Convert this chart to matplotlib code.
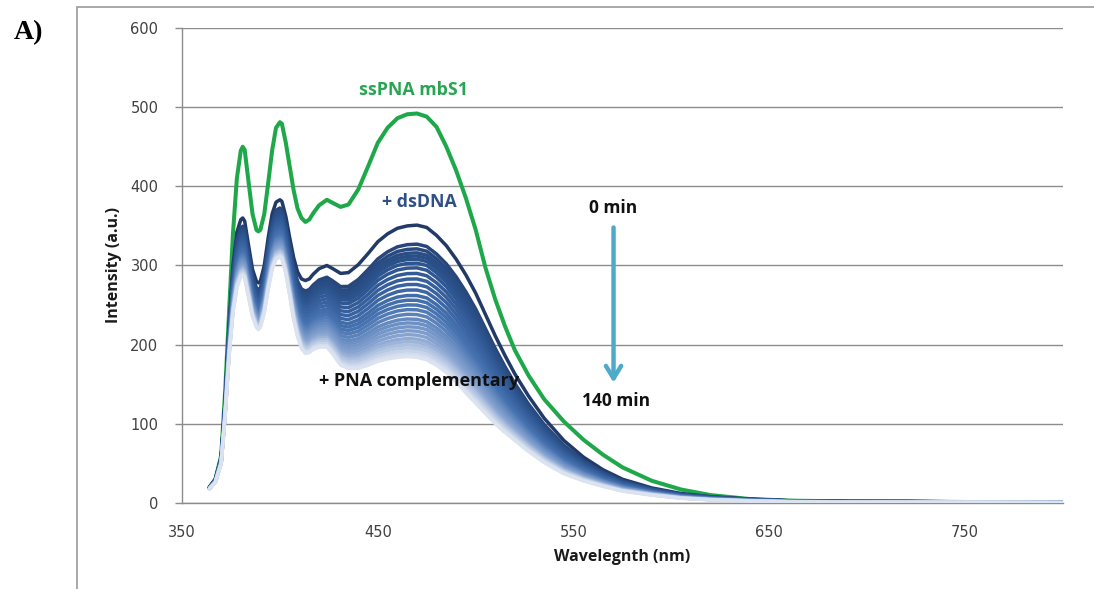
import numpy as np
import matplotlib
matplotlib.use("Agg")
import matplotlib.pyplot as plt
from matplotlib.colors import LinearSegmentedColormap
from matplotlib.patches import Rectangle

# Wavelength grid (nm)
wavelength = [364, 367, 370, 372, 374, 376, 378, 380, 381, 382, 384, 386, 388, 389, 390,
              392, 394, 396, 398, 400, 401, 403, 405, 407, 409, 411, 413, 415, 417, 420,
              424, 427, 431, 435, 440, 445, 450, 455, 460, 465, 470, 475, 480, 485, 490,
              495, 500, 505, 510, 515, 520, 527, 535, 545, 555, 565, 575, 590, 605, 620,
              640, 660, 690, 720, 760, 800]

# ssPNA mbS1 alone
ss_pna = [20, 30, 60, 140, 240, 340, 410, 445, 450, 446, 405, 365, 345, 343, 345,
          365, 404, 445, 474, 481, 479, 455, 425, 395, 372, 360, 355, 358, 366, 376,
          383, 379, 374, 377, 396, 425, 455, 474, 486, 491, 492, 488, 475, 450, 420,
          385, 345, 297, 257, 223, 193, 161, 131, 103, 80, 61, 45, 28, 17, 10,
          5, 3, 2, 1.5, 1, 0.5]

# + dsDNA, first scan (0 min)
ds_first = [20, 30, 58, 130, 225, 300, 342, 358, 360, 356, 325, 295, 280, 278, 280,
            300, 335, 365, 380, 383, 381, 362, 335, 310, 292, 283, 281, 283, 289, 296,
            300, 296, 290, 291, 301, 315, 330, 340, 347, 350, 351, 348, 338, 325, 308,
            288, 265, 238, 211, 186, 163, 135, 107, 79, 58, 42, 30, 19, 12, 8,
            5, 3, 2, 2, 1.5, 1]

# + PNA complementary, last scan (140 min)
ds_last = [18, 26, 50, 110, 185, 240, 272, 286, 288, 284, 260, 235, 222, 219, 222,
           240, 270, 295, 308, 311, 309, 290, 262, 232, 210, 195, 189, 190, 194, 197,
           197, 188, 174, 170, 170, 174, 179, 182, 184, 185, 184, 181, 174, 165, 153,
           139, 126, 113, 100, 89, 79, 65, 51, 37, 28, 21, 15, 10, 6, 4,
           2.5, 1.5, 1, 1, 0.8, 0.5]

# Scan times (min) and emission maximum (~470 nm) of each scan
scan_time = list(range(0, 145, 5))
max_intensity = [351, 327, 321, 316, 312, 308, 303, 297, 290, 283, 276, 269, 262, 256, 250,
                 244, 238, 232, 227, 222, 217, 212, 207, 203, 199, 195, 191, 187, 184]

x_ticks = [350, 450, 550, 650, 750]
y_ticks = [0, 100, 200, 300, 400, 500, 600]

wl = np.array(wavelength, dtype=float)
first = np.array(ds_first, dtype=float)
last = np.array(ds_last, dtype=float)

fig = plt.figure(figsize=(10.94, 5.89), dpi=100)
ax = fig.add_axes([0.1664, 0.146, 0.8053, 0.8065])

# chart frame
fig.patches.append(Rectangle((0.0704, -0.05), 1.0, 1.038, transform=fig.transFigure,
                             fill=False, edgecolor="#9a9a9a", linewidth=1.2))

ax.plot(wl, ss_pna, color="#1fa84a", linewidth=2.9, zorder=2,
        solid_capstyle="round", solid_joinstyle="round")

cmap = LinearSegmentedColormap.from_list(
    "scan", [(0.0, "#213a68"), (0.3, "#2d5590"), (0.6, "#4672b0"),
             (0.85, "#8aa6d2"), (1.0, "#dbe3f0")])
m0, m1 = max_intensity[0], max_intensity[-1]
for t, m in zip(scan_time, max_intensity):
    frac = (m0 - m) / (m0 - m1)
    spec = first + frac * (last - first)
    ax.plot(wl, spec, color=cmap(frac), linewidth=2.5, zorder=3,
            solid_capstyle="round", solid_joinstyle="round")

ax.set_xlim(350, 800)
ax.set_ylim(0, 600)
ax.set_xticks(x_ticks)
ax.set_yticks(y_ticks)
ax.yaxis.grid(True, color="#8c8c8c", linewidth=1.0)
ax.set_axisbelow(True)
for s in ["top", "right"]:
    ax.spines[s].set_visible(False)
for s in ["left", "bottom"]:
    ax.spines[s].set_color("#8c8c8c")
    ax.spines[s].set_linewidth(1.0)
ax.tick_params(axis="x", length=0, pad=16, labelsize=10.5, labelcolor="#404040")
ax.tick_params(axis="y", length=5, width=1, color="#8c8c8c", pad=12, labelsize=10.5,
               labelcolor="#404040")

lab_font = dict(family="Open Sans", fontweight="bold", fontsize=11.5, color="#1a1a1a")
ax.set_xlabel("Wavelegnth (nm)", labelpad=6, **lab_font)
ax.set_ylabel("Intensity (a.u.)", labelpad=6, **lab_font)

ann = dict(family="Open Sans", fontweight="bold", ha="center", va="center")
ax.text(468, 522, "ssPNA mbS1", color="#27a552", fontsize=12.8, **ann)
ax.text(471, 380, "+ dsDNA", color="#2f4f86", fontsize=12.8, **ann)
ax.text(471, 154, "+ PNA complementary", color="#111111", fontsize=13, **ann)
ax.text(570, 373, "0 min", color="#111111", fontsize=12.5, **ann)
ax.text(571.5, 129, "140 min", color="#111111", fontsize=12.5, **ann)

ax.annotate("", xy=(570.4, 152), xytext=(570.4, 348),
            arrowprops=dict(arrowstyle="->,head_length=0.9,head_width=0.55",
                            color="#4fa9c8", linewidth=3.2, shrinkA=0, shrinkB=0))

fig.text(0.0128, 0.945, "A)", family="Liberation Serif", fontweight="bold", fontsize=20,
         ha="left", va="center", color="#000000")

fig.savefig("out.png", dpi=100)
